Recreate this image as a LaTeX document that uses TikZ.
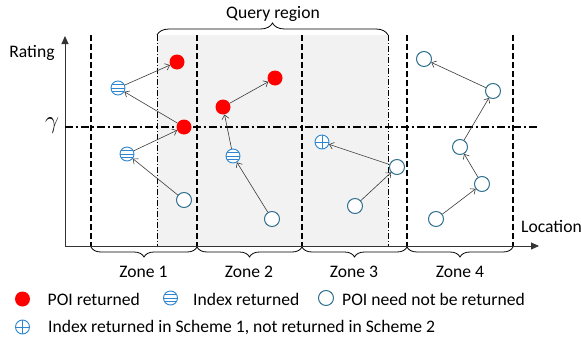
\documentclass[tikz,border=0pt]{standalone}
\usepackage{fontspec}
\setmainfont{Carlito}
\usetikzlibrary{arrows.meta,decorations.pathreplacing}
\definecolor{idxblue}{HTML}{2E86D1}
\definecolor{poiteal}{HTML}{31708F}
\definecolor{shadegray}{HTML}{F2F2F2}
\definecolor{arrgray}{HTML}{3A3A3A}
\tikzset{
  poired/.style={circle,fill=red,minimum size=15pt,inner sep=0pt},
  idx/.style={circle,draw=idxblue,line width=0.9pt,fill=white,minimum size=14pt,inner sep=0pt,
    path picture={\foreach \yy in {-3.5,0,3.5}{\draw[idxblue,line width=0.8pt] ([yshift=\yy pt]path picture bounding box.west) -- ([yshift=\yy pt]path picture bounding box.east);}}},
  idxcross/.style={circle,draw=idxblue,line width=0.9pt,fill=white,minimum size=14pt,inner sep=0pt,
    path picture={\draw[idxblue,line width=0.8pt] (path picture bounding box.west) -- (path picture bounding box.east) (path picture bounding box.north) -- (path picture bounding box.south);}},
  poi/.style={circle,draw=poiteal,line width=1pt,fill=white,minimum size=15pt,inner sep=0pt},
  arr/.style={draw=arrgray,line width=0.6pt,-{Straight Barb[length=4pt,width=7pt]}},
  axisline/.style={draw=black!80,line width=0.9pt,-{Triangle[length=8pt,width=7pt]}},
  zonesep/.style={line width=1.3pt,dash pattern=on 6pt off 3pt},
  qside/.style={line width=0.9pt,dash pattern=on 6pt off 2pt on 1pt off 2pt},
  gline/.style={line width=1.2pt,dash pattern=on 8pt off 3pt on 2pt off 3pt},
  lbl/.style={font=\fontsize{17.6}{20}\selectfont,inner sep=0pt},
  zbrace/.style={decorate,decoration={brace,mirror,amplitude=10pt},line width=0.8pt},
  qbrace/.style={decorate,decoration={brace,amplitude=12pt},line width=0.8pt},
}
\begin{document}
\begin{tikzpicture}[x=1pt,y=-1pt]
\useasboundingbox (0,0) rectangle (581,343);
% query region shading
\fill[shadegray] (157,35) rectangle (388,246);
\coordinate (qtl) at (157,35);
\coordinate (qtr) at (388,35);
\coordinate (qbl) at (157,246);
\coordinate (qbr) at (388,246);
\draw[qside] (qtl) -- (qbl);
\draw[qside] (qtr) -- (qbr);
\draw[qbrace] (qtl) -- (qtr);
\node[lbl,anchor=base] (qlab) at (273,18) {Query region};
% zone separators
\foreach \xx/\nm in {91/z0,197/z1,302/z2,407/z3,513/z4}{
  \coordinate (\nm t) at (\xx,35);
  \coordinate (\nm b) at (\xx,247);
  \draw[zonesep] (\nm t) -- (\nm b);
}
% axes
\coordinate (orig) at (65,246);
\coordinate (ytip) at (65,36);
\coordinate (xtip) at (539,246);
\draw[axisline] (orig) -- (ytip);
\draw[axisline] (orig) -- (xtip);
\node[lbl,anchor=base] (rating) at (32,57) {Rating};
\node[lbl,anchor=base west] (loc) at (521,232) {Location};
% gamma line
\coordinate (gl) at (65,127);
\coordinate (gr) at (539,127);
\draw[gline] (gl) -- (gr);
\node[inner sep=0pt,font=\fontsize{29}{31}\selectfont] (gam) at (52,126) {$\gamma$};
% zone braces
\draw[zbrace] (z0b) -- (z1b);
\draw[zbrace] (z1b) -- (z2b);
\draw[zbrace] (z2b) -- (z3b);
\draw[zbrace] (z3b) -- (z4b);
\node[lbl,anchor=base] (zl1) at (143.5,277) {Zone 1};
\node[lbl,anchor=base] (zl2) at (249,277) {Zone 2};
\node[lbl,anchor=base] (zl3) at (354,277) {Zone 3};
\node[lbl,anchor=base] (zl4) at (460,277) {Zone 4};
% points
\node[poired] (a) at (177,62) {};
\node[idx] (h1) at (118,88) {};
\node[poired] (b) at (184,127) {};
\node[idx] (h2) at (127,154) {};
\node[poi] (c1) at (184,200) {};
\node[poired] (d) at (275,78) {};
\node[poired] (e) at (223,107) {};
\node[idx] (h3) at (233,156) {};
\node[poi] (c2) at (272,219) {};
\node[idxcross] (x1) at (322,142) {};
\node[poi] (c3) at (397,167) {};
\node[poi] (c4) at (355,206) {};
\node[poi] (c5) at (424,59) {};
\node[poi] (c6) at (493,91) {};
\node[poi] (c7) at (460,147) {};
\node[poi] (c8) at (482,184) {};
\node[poi] (c9) at (436,219) {};
% arrows
\draw[arr] (h1) -- (a);
\draw[arr] (b) -- (h1);
\draw[arr] (h2) -- (b);
\draw[arr] (c1) -- (h2);
\draw[arr] (e) -- (d);
\draw[arr] (h3) -- (e);
\draw[arr] (c2) -- (h3);
\draw[arr] (c3) -- (x1);
\draw[arr] (c4) -- (c3);
\draw[arr] (c6) -- (c5);
\draw[arr] (c7) -- (c6);
\draw[arr] (c8) -- (c7);
\draw[arr] (c9) -- (c8);
% legend
\node[poired] (lr) at (22.5,299) {};
\node[lbl,anchor=base west] (lrt) at (47.5,305) {POI returned};
\node[idx] (li) at (170.5,298) {};
\node[lbl,anchor=base west] (lit) at (193,305) {Index returned};
\node[poi] (lp) at (326,298) {};
\node[lbl,anchor=base west] (lpt) at (342,305) {POI need not be returned};
\node[idxcross] (lx) at (22.5,327) {};
\node[lbl,anchor=base west] (lxt) at (48,332) {Index returned in Scheme 1, not returned in Scheme 2};
\end{tikzpicture}
\end{document}
